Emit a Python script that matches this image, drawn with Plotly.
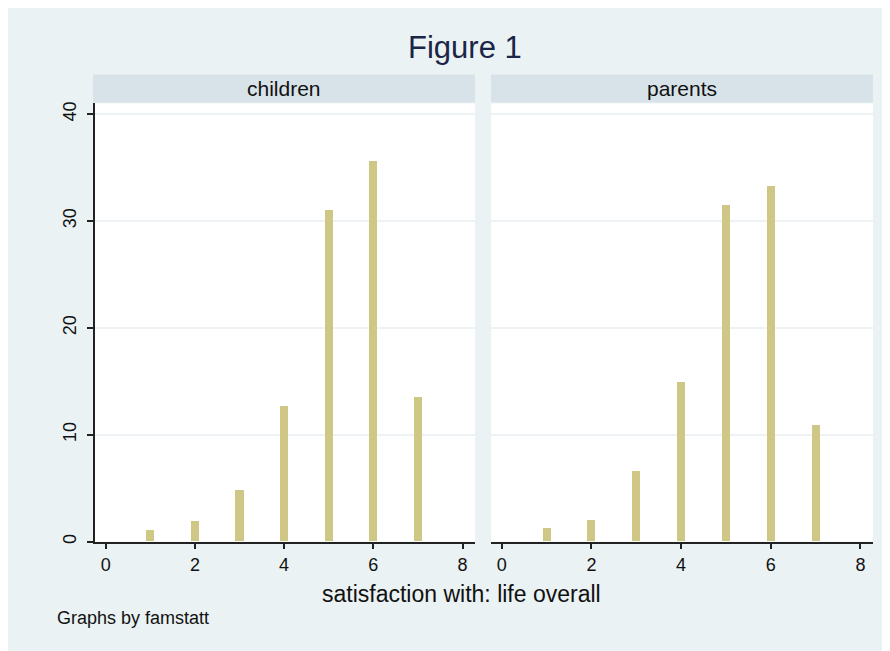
import plotly.graph_objects as go

# Data
scores = [1, 2, 3, 4, 5, 6, 7]
children = [1.05, 1.85, 4.8, 12.7, 31.0, 35.6, 13.45]
parents = [1.2, 2.0, 6.55, 14.9, 31.5, 33.2, 10.9]
panel_names = ["children", "parents"]
x_ticks = [0, 2, 4, 6, 8]
y_ticks = [0, 10, 20, 30, 40]

OFF = 8  # page body margin
W, H = 890 - OFF, 651 - OFF
BAR = "#cfc785"
BG = "#eaf2f3"
STRIP = "#d7e3e9"
GRID = "#edf3f5"
FONT = "Liberation Sans, Arial, sans-serif"

def px(x):
    return (x - OFF) / W

def py(y):
    return (H - (y - OFF)) / H

fig = go.Figure()
fig.add_trace(go.Bar(x=scores, y=children, width=0.18, marker=dict(color=BAR, line=dict(width=0)),
                     xaxis="x", yaxis="y", showlegend=False))
fig.add_trace(go.Bar(x=scores, y=parents, width=0.18, marker=dict(color=BAR, line=dict(width=0)),
                     xaxis="x2", yaxis="y2", showlegend=False))

dom1 = [px(95), px(475)]
dom2 = [px(491), px(873)]
ydom = [py(543), py(102)]

xcommon = dict(range=[-0.24, 8.28], tickvals=x_ticks, ticks="outside", ticklen=6, tickwidth=1.5,
               tickcolor="#222", showline=True, linecolor="#222", linewidth=1.5, showgrid=False,
               zeroline=False, tickfont=dict(family=FONT, size=18, color="#111"), fixedrange=True)
ycommon = dict(range=[0, 41], tickvals=y_ticks, showgrid=True, gridcolor=GRID, gridwidth=1.5,
               zeroline=False, fixedrange=True)

fig.update_layout(
    width=W, height=H,
    margin=dict(l=0, r=0, t=0, b=0),
    paper_bgcolor=BG,
    plot_bgcolor="white",
    bargap=0,
    xaxis=dict(domain=dom1, anchor="y", **xcommon),
    xaxis2=dict(domain=dom2, anchor="y2", **xcommon),
    yaxis=dict(domain=ydom, anchor="x", ticks="outside", ticklen=6, tickwidth=1.5, tickcolor="#222",
               showline=True, linecolor="#222", linewidth=1.5, tickangle=-90, ticklabelstandoff=4,
               tickfont=dict(family=FONT, size=18, color="#111"), **ycommon),
    yaxis2=dict(domain=ydom, anchor="x2", showticklabels=False, showline=False, **ycommon),
    shapes=[
        dict(type="rect", xref="paper", yref="paper", x0=px(93), x1=px(475), y0=py(101), y1=py(73),
             fillcolor=STRIP, line=dict(width=0), layer="below"),
        dict(type="rect", xref="paper", yref="paper", x0=px(491), x1=px(873), y0=py(101), y1=py(73),
             fillcolor=STRIP, line=dict(width=0), layer="below"),
    ],
    annotations=[
        dict(text="Figure 1", xref="paper", yref="paper", x=px(465), y=py(46), showarrow=False,
             xanchor="center", yanchor="middle", font=dict(family=FONT, size=31, color="#1b2547")),
        dict(text=panel_names[0], xref="paper", yref="paper", x=px(284), y=py(87), showarrow=False,
             xanchor="center", yanchor="middle", font=dict(family=FONT, size=21, color="#111")),
        dict(text=panel_names[1], xref="paper", yref="paper", x=px(682), y=py(87), showarrow=False,
             xanchor="center", yanchor="middle", font=dict(family=FONT, size=21, color="#111")),
        dict(text="satisfaction with: life overall", xref="paper", yref="paper", x=px(461), y=py(596),
             showarrow=False, xanchor="center", yanchor="middle", font=dict(family=FONT, size=23, color="#111")),
        dict(text="Graphs by famstatt", xref="paper", yref="paper", x=px(55), y=py(620),
             showarrow=False, xanchor="left", yanchor="middle", font=dict(family=FONT, size=18, color="#111")),
    ],
)

fig.write_html("out.html")
